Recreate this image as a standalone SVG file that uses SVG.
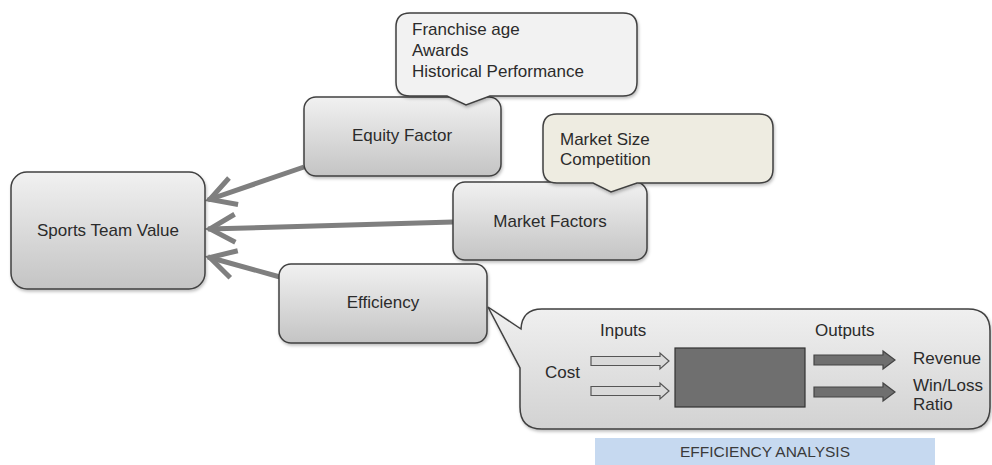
<svg xmlns="http://www.w3.org/2000/svg" width="992" height="465" viewBox="0 0 992 465">
  <defs>
    <linearGradient id="boxFill" x1="0" y1="0" x2="0" y2="1">
      <stop offset="0" stop-color="#f1f1f1"/>
      <stop offset="1" stop-color="#c4c4c4"/>
    </linearGradient>
    <linearGradient id="panelFill" x1="0" y1="0" x2="0" y2="1">
      <stop offset="0" stop-color="#f0f0f0"/>
      <stop offset="1" stop-color="#d2d2d2"/>
    </linearGradient>
    <filter id="shadow" x="-10%" y="-10%" width="130%" height="140%">
      <feDropShadow dx="1" dy="2" stdDeviation="1.5" flood-color="#000" flood-opacity="0.25"/>
    </filter>
    <!-- open chevron head; tip sits on the line end, barbs trail behind it -->
    <marker id="chevron" markerUnits="userSpaceOnUse" orient="auto" refX="0" refY="0"
            viewBox="-34 -18 40 36" markerWidth="40" markerHeight="36" overflow="visible">
      <path d="M-27,-14 L-2,0 L-27,14" fill="none" stroke="#7f7f7f" stroke-width="5" stroke-linejoin="miter"/>
    </marker>
    <style>
      .node { fill: url(#boxFill); stroke: #404040; stroke-width: 1.5; filter: url(#shadow); }
      .label { font-family: "Liberation Sans", Arial, sans-serif; font-size: 17px; fill: #2b2b2b; }
      .mid { text-anchor: middle; }
      .conn { stroke: #7f7f7f; stroke-width: 5; fill: none; }
      .note { stroke: #404040; stroke-width: 1.5; filter: url(#shadow); }
      .inArrow { fill: #d9d9d9; stroke: #555555; stroke-width: 1.2; }
      .outArrow { fill: #6f6f6f; stroke: #444444; stroke-width: 1.2; }
    </style>
  </defs>

  <rect width="992" height="465" fill="#ffffff"/>

  <!-- connectors into the value node -->
  <g id="connectors">
    <line class="conn" x1="304" y1="167" x2="208" y2="200" marker-end="url(#chevron)"/>
    <line class="conn" x1="453" y1="222" x2="208" y2="229" marker-end="url(#chevron)"/>
    <line class="conn" x1="280" y1="277" x2="208" y2="257" marker-end="url(#chevron)"/>
  </g>

  <g id="sports-team-value">
    <rect class="node" x="11" y="172" width="194" height="117" rx="16"/>
    <text class="label mid" x="108" y="236">Sports Team Value</text>
  </g>

  <g id="equity-factor">
    <rect class="node" x="304" y="97" width="197" height="79" rx="12"/>
    <text class="label mid" x="402" y="141">Equity Factor</text>
  </g>

  <g id="market-factors">
    <rect class="node" x="453" y="182" width="194" height="78" rx="12"/>
    <text class="label mid" x="550" y="227">Market Factors</text>
  </g>

  <g id="efficiency">
    <rect class="node" x="279" y="264" width="208" height="79" rx="12"/>
    <text class="label mid" x="383" y="308">Efficiency</text>
  </g>

  <!-- callout: equity details -->
  <g id="equity-note">
    <path class="note" fill="#f2f2f2"
          d="M410,13 H623 Q637,13 637,27 V82 Q637,96 623,96 H490 L466,105 L447,96 H410 Q396,96 396,82 V27 Q396,13 410,13 Z"/>
    <text class="label" x="412" y="35">Franchise age</text>
    <text class="label" x="412" y="56">Awards</text>
    <text class="label" x="412" y="77">Historical Performance</text>
  </g>

  <!-- callout: market details -->
  <g id="market-note">
    <path class="note" fill="#eeece1"
          d="M557,114 H759 Q773,114 773,128 V169 Q773,183 759,183 H637 L611,192 L593,183 H557 Q543,183 543,169 V128 Q543,114 557,114 Z"/>
    <text class="label" x="560" y="145">Market Size</text>
    <text class="label" x="560" y="165">Competition</text>
  </g>

  <!-- callout: efficiency analysis panel -->
  <g id="efficiency-note">
    <path class="note" fill="url(#panelFill)"
          d="M542,309 H968 Q990,309 990,331 V407 Q990,429 968,429 H542 Q520,429 520,407 V368 L488,307 L521,329 Q522,309 542,309 Z"/>
    <text class="label" x="600" y="336">Inputs</text>
    <text class="label" x="815" y="336">Outputs</text>
    <text class="label" x="545" y="378">Cost</text>

    <path class="inArrow" d="M591,356.5 H660 V353 L669,361 L660,369 V365.5 H591 Z"/>
    <path class="inArrow" d="M591,386.5 H660 V383 L669,391 L660,399 V395.5 H591 Z"/>

    <rect x="675" y="348" width="130" height="59" fill="#6f6f6f" stroke="#333333" stroke-width="1.2"/>

    <path class="outArrow" d="M814,355 H883 V351 L895,360 L883,369 V365 H814 Z"/>
    <path class="outArrow" d="M814,387 H883 V383 L895,392 L883,401 V397 H814 Z"/>

    <text class="label" x="913" y="364">Revenue</text>
    <text class="label" x="913" y="391">Win/Loss</text>
    <text class="label" x="913" y="410">Ratio</text>
  </g>

  <g id="efficiency-analysis-caption">
    <rect x="595" y="438" width="340" height="27" fill="#c6d9f0"/>
    <text x="765" y="457" text-anchor="middle" font-family="'Liberation Sans', Arial, sans-serif" font-size="15.5" fill="#3a3a3a">EFFICIENCY ANALYSIS</text>
  </g>
</svg>
